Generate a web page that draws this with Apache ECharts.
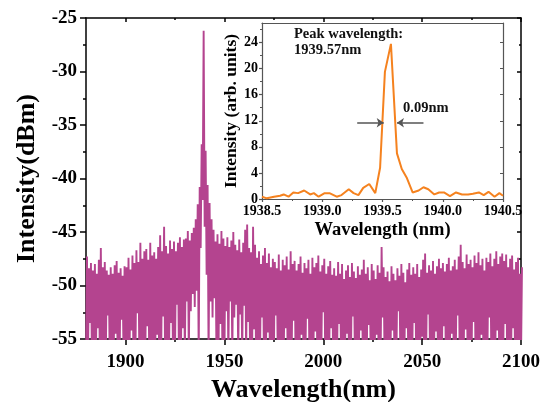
<!DOCTYPE html>
<html>
<head>
<meta charset="utf-8">
<script src="https://cdn.jsdelivr.net/npm/echarts@6/dist/echarts.min.js"></script>
<style>
  html, body { margin: 0; padding: 0; background: #fff; }
  #chart { width: 546px; height: 402px; }
</style>
</head>
<body>
<div id="chart"></div>
<script>
// ---------- Main spectrum (dBm) ----------
// lo values sit at whole nanometres (1880 + i), hi values at half nanometres (1880.5 + i)
const mainStart = 1880;
const mainLo = [
  -57, -57, -53.5, -57, -57, -57, -54.0, -57, -57, -57,
  -57, -52.8, -57, -57, -57, -54.5, -57, -57, -53.2, -57,
  -57, -57, -57, -54.2, -57, -57, -52.6, -57, -57, -57,
  -57, -53.8, -57, -57, -57, -57, -54.6, -57, -57, -52.9,
  -57, -57, -57, -53.5, -57, -57, -51.8, -57, -57, -54.0,
  -57, -51.5, -57, -52.4, -50.8, -52.0, -50.5, -57, -46.5, -42.0,
  -44.5, -49.0, -57, -51.5, -53.0, -51.2, -57, -57, -53.6, -57,
  -57, -52.4, -57, -51.5, -57, -53.0, -51.8, -57, -52.7, -57,
  -51.9, -57, -53.4, -57, -57, -54.1, -57, -57, -57, -53.0,
  -57, -57, -54.4, -57, -57, -57, -52.8, -57, -57, -57,
  -57, -54.0, -57, -57, -57, -53.3, -57, -57, -57, -54.6,
  -57, -57, -53.1, -57, -57, -57, -54.3, -57, -57, -57,
  -52.5, -57, -57, -57, -54.0, -57, -57, -57, -53.6, -57,
  -57, -57, -54.5, -57, -57, -52.9, -57, -57, -57, -54.2,
  -57, -57, -57, -53.7, -57, -57, -57, -54.6, -57, -57,
  -53.0, -57, -57, -57, -57, -54.2, -57, -57, -52.4, -57,
  -57, -57, -54.0, -57, -57, -57, -53.5, -57, -57, -57,
  -54.8, -57, -57, -52.7, -57, -57, -57, -54.3, -57, -57,
  -57, -53.8, -57, -57, -57, -54.5, -57, -57, -52.8, -57,
  -57, -57, -54.1, -57, -57, -57, -53.4, -57, -57, -57,
  -54.6, -57, -57, -57, -53.0, -57, -57, -57, -54.2, -57,
  -57, -57, -53.6, -57, -57, -57, -54.0, -57, -57, -57,
  -57
];
const mainHi = [
  -47.3, -48.4, -47.9, -48.6, -48.0, -48.9, -47.6, -46.5, -48.3, -47.8,
  -48.6, -49.0, -48.3, -48.9, -48.1, -47.7, -48.8, -48.4, -49.1, -48.2,
  -48.3, -47.4, -48.5, -47.2, -47.9, -46.7, -47.8, -46.0, -47.5, -46.8,
  -46.6, -47.6, -46.0, -47.2, -46.9, -47.5, -46.4, -45.3, -46.8, -44.5,
  -46.3, -47.0, -45.8, -46.6, -45.9, -46.8, -46.0, -45.5, -46.4, -45.7,
  -45.6, -44.9, -45.8, -45.1, -44.6, -43.8, -42.4, -40.8, -36.8, -26.2,
  -37.4, -40.6, -42.3, -43.8, -44.8, -45.9, -45.2, -46.1, -44.9, -45.6,
  -46.3, -45.5, -46.4, -45.8, -45.0, -46.2, -46.7, -45.7, -46.9, -46.0,
  -44.8, -44.3, -46.5, -46.9, -44.5, -46.2, -47.4, -46.8, -48.0, -47.2,
  -46.5, -47.9, -47.0, -48.3, -47.5, -47.8, -48.4, -47.1, -48.6, -47.6,
  -48.1, -47.3, -48.5, -46.8, -48.0, -47.7, -48.6, -48.0, -47.3, -48.8,
  -47.9, -48.4, -47.6, -48.9, -47.4, -48.3, -47.9, -47.2, -48.7, -48.1,
  -47.5, -48.9, -48.2, -47.7, -49.0, -48.4, -49.1, -47.8, -48.9, -48.0,
  -49.4, -48.6, -48.1, -49.2, -47.9, -48.7, -49.3, -48.2, -49.0, -48.5,
  -47.6, -48.9, -48.3, -49.5, -48.0, -48.6, -49.4, -48.1, -48.8, -46.4,
  -48.3, -49.2, -48.7, -49.6, -48.2, -48.9, -49.5, -48.4, -49.1, -48.0,
  -48.8, -49.7, -48.5, -47.9, -49.0, -48.3, -48.9, -48.0, -49.2, -48.5,
  -47.6, -47.0, -48.8, -48.1, -48.6, -47.7, -48.9, -48.2, -47.5, -48.4,
  -47.9, -48.7, -48.0, -47.4, -48.6, -48.2, -47.6, -48.5, -47.3, -46.2,
  -47.8, -48.4, -47.1, -48.0, -47.6, -48.3, -47.2, -47.9, -46.9, -48.1,
  -47.5, -48.6, -47.4, -47.8, -47.0, -48.2, -47.5, -46.8, -48.0, -47.3,
  -47.0, -47.7, -47.1, -48.3, -47.5, -47.2, -48.5, -47.8, -47.4, -48.9,
  -48.3
];
const mainXTicks = [1900, 1950, 2000, 2050, 2100];
const mainXMinor = [1925, 1975, 2025, 2075];

// ---------- Inset (arb. units) ----------
const insetX = [
  1938.50, 1938.54, 1938.60, 1938.65, 1938.68, 1938.72, 1938.76, 1938.80, 1938.85, 1938.90,
  1938.93, 1938.97, 1939.02, 1939.06, 1939.12, 1939.16, 1939.22, 1939.26, 1939.30, 1939.34,
  1939.39, 1939.44, 1939.48, 1939.52, 1939.57, 1939.62, 1939.66, 1939.70, 1939.75, 1939.80,
  1939.84, 1939.88, 1939.93, 1939.97, 1940.01, 1940.06, 1940.11, 1940.16, 1940.21, 1940.25,
  1940.30, 1940.34, 1940.38, 1940.43, 1940.47, 1940.50
];
const insetY = [
  0.35, 0.1, 0.35, 0.5, 0.7, 0.35, 1.0, 0.9, 1.3, 0.7,
  0.9, 0.35, 0.9, 0.9, 0.35, 0.6, 1.5, 0.9, 0.6, 1.7,
  2.3, 0.9, 4.8, 19.5, 23.8, 7.0, 4.6, 3.3, 1.0, 1.3,
  1.8, 1.5, 0.7, 1.0, 1.0, 0.45, 1.0, 0.7, 0.7, 0.8,
  1.0, 0.6, 1.1, 0.35, 0.9, 0.5
];
const insetYTicks = [0, 4, 8, 12, 16, 20, 24];
const insetYMinor = [2, 6, 10, 14, 18, 22, 26];
const fwhmY = 11.7;
const fwhmLeftArrow = [1939.29, 1939.51];
const fwhmRightArrow = [1939.84, 1939.62];

const mainData = [];
for (let i = 0; i < mainLo.length; i++) {
  mainData.push([mainStart + i, mainLo[i]]);
  if (i < mainHi.length) mainData.push([mainStart + i + 0.5, mainHi[i]]);
}
const insetData = insetX.map((x, i) => [x, insetY[i]]);

const FONT = '"Liberation Serif", "Times New Roman", serif';
const black = '#000';
const grey = '#555';

function hiddenAxis(extra) {
  return Object.assign({
    type: 'value', splitLine: { show: false },
    axisLabel: { show: false }, axisLine: { show: false }
  }, extra);
}

const chart = echarts.init(document.getElementById('chart'), null, { renderer: 'canvas' });
chart.setOption({
  animation: false,
  backgroundColor: '#fff',
  grid: [
    { left: 86, right: 25, top: 18, bottom: 63, containLabel: false, outerBoundsMode: 'none' },
    { left: 262, right: 43, top: 23, bottom: 203, containLabel: false, outerBoundsMode: 'none' }
  ],
  xAxis: [
    { // 0 main bottom
      type: 'value', gridIndex: 0, min: 1880, max: 2100, position: 'bottom',
      splitLine: { show: false },
      axisLine: { onZero: false, lineStyle: { color: black, width: 1.5 } },
      axisTick: { customValues: mainXTicks, length: 6, lineStyle: { color: black, width: 1.5 } },
      axisLabel: { customValues: mainXTicks, color: black, fontSize: 19, fontWeight: 'bold', fontFamily: FONT, margin: 14,
        formatter: v => String(v) },
      name: 'Wavelength(nm)', nameLocation: 'middle', nameGap: 36,
      nameTextStyle: { color: black, fontSize: 26, fontWeight: 'bold', fontFamily: FONT }
    },
    hiddenAxis({ // 1 main bottom minor
      gridIndex: 0, min: 1880, max: 2100, position: 'bottom',
      axisTick: { show: true, customValues: mainXMinor, length: 3, lineStyle: { color: black, width: 1.5 } }
    }),
    hiddenAxis({ // 2 main top
      gridIndex: 0, min: 1880, max: 2100, position: 'top',
      axisLine: { show: true, onZero: false, lineStyle: { color: black, width: 1.5 } },
      axisTick: { show: true, inside: true, customValues: mainXTicks, length: 4, lineStyle: { color: black, width: 1.5 } }
    }),
    hiddenAxis({ // 3 main top minor
      gridIndex: 0, min: 1880, max: 2100, position: 'top',
      axisTick: { show: true, inside: true, customValues: mainXMinor, length: 2, lineStyle: { color: black, width: 1.5 } }
    }),
    { // 4 inset bottom
      type: 'value', gridIndex: 1, min: 1938.5, max: 1940.5, interval: 0.5, position: 'bottom',
      splitLine: { show: false },
      axisLine: { onZero: false, lineStyle: { color: grey, width: 1.2 } },
      axisTick: { length: 3, lineStyle: { color: grey, width: 1.2 } },
      minorTick: { show: true, splitNumber: 2, length: 2, lineStyle: { color: grey, width: 1 } },
      axisLabel: { color: black, fontSize: 14, fontWeight: 'bold', fontFamily: FONT, margin: 5,
        formatter: v => v.toFixed(1) },
      name: 'Wavelength (nm)', nameLocation: 'middle', nameGap: 22,
      nameTextStyle: { color: black, fontSize: 18.5, fontWeight: 'bold', fontFamily: FONT }
    },
    hiddenAxis({ // 5 inset top
      gridIndex: 1, min: 1938.5, max: 1940.5, position: 'top',
      axisLine: { show: true, onZero: false, lineStyle: { color: grey, width: 1.2 } },
      axisTick: { show: false }
    })
  ],
  yAxis: [
    { // 0 main left
      type: 'value', gridIndex: 0, min: -55, max: -25, interval: 5, position: 'left',
      splitLine: { show: false },
      axisLine: { show: true, onZero: false, lineStyle: { color: black, width: 1.5 } },
      axisTick: { show: true, length: 6, lineStyle: { color: black, width: 1.5 } },
      minorTick: { show: true, splitNumber: 2, length: 3, lineStyle: { color: black, width: 1.5 } },
      axisLabel: { color: black, fontSize: 19, fontWeight: 'bold', fontFamily: FONT, margin: 9 },
      name: 'Intensity(dBm)', nameLocation: 'middle', nameGap: 42,
      nameTextStyle: { color: black, fontSize: 26, fontWeight: 'bold', fontFamily: FONT }
    },
    { // 1 main right
      type: 'value', gridIndex: 0, min: -55, max: -25, interval: 5, position: 'right',
      splitLine: { show: false },
      axisLine: { show: true, onZero: false, lineStyle: { color: black, width: 1.5 } },
      axisTick: { show: true, inside: true, length: 4, lineStyle: { color: black, width: 1.5 } },
      minorTick: { show: true, splitNumber: 2, length: 2, lineStyle: { color: black, width: 1.5 } },
      axisLabel: { show: false }
    },
    { // 2 inset left
      type: 'value', gridIndex: 1, min: 0, max: 27, position: 'left',
      splitLine: { show: false },
      axisLine: { show: true, onZero: false, lineStyle: { color: grey, width: 1.2 } },
      axisTick: { show: true, customValues: insetYTicks, length: 3, lineStyle: { color: grey, width: 1.2 } },
      axisLabel: { customValues: insetYTicks, color: black, fontSize: 14, fontWeight: 'bold', fontFamily: FONT, margin: 4 },
      name: 'Intensity (arb. units)', nameLocation: 'middle', nameGap: 21,
      nameTextStyle: { color: black, fontSize: 17.5, fontWeight: 'bold', fontFamily: FONT }
    },
    hiddenAxis({ // 3 inset left minor
      gridIndex: 1, min: 0, max: 27, position: 'left',
      axisTick: { show: true, customValues: insetYMinor, length: 2, lineStyle: { color: grey, width: 1 } }
    }),
    hiddenAxis({ // 4 inset right
      gridIndex: 1, min: 0, max: 27, position: 'right',
      axisLine: { show: true, onZero: false, lineStyle: { color: grey, width: 1.2 } },
      axisTick: { show: true, inside: true, customValues: insetYTicks, length: 3, lineStyle: { color: grey, width: 1 } }
    })
  ],
  series: [
    {
      type: 'line', xAxisIndex: 0, yAxisIndex: 0, data: mainData,
      showSymbol: false, symbol: 'none', sampling: null, clip: true,
      lineStyle: { color: '#B4448F', width: 1.9, join: 'miter', miterLimit: 2 }, z: 2
    },
    {
      type: 'line', xAxisIndex: 4, yAxisIndex: 2, data: insetData,
      showSymbol: false, symbol: 'none', clip: true,
      lineStyle: { color: '#F5821F', width: 2 }, z: 3,
      markLine: {
        silent: true, symbol: ['none', 'arrow'], symbolSize: 7, animation: false,
        label: { show: false },
        lineStyle: { color: grey, width: 1.5, type: 'solid' },
        emphasis: { disabled: true },
        data: [
          [{ coord: [fwhmLeftArrow[0], fwhmY] }, { coord: [fwhmLeftArrow[1], fwhmY] }],
          [{ coord: [fwhmRightArrow[0], fwhmY] }, { coord: [fwhmRightArrow[1], fwhmY] }]
        ]
      }
    }
  ],
  graphic: [
    { type: 'text', left: 294, top: 27, style: { text: 'Peak wavelength:', fill: '#111', fontSize: 14.5, fontWeight: 'bold', fontFamily: FONT } },
    { type: 'text', left: 294, top: 43, style: { text: '1939.57nm', fill: '#111', fontSize: 14.5, fontWeight: 'bold', fontFamily: FONT } },
    { type: 'text', left: 403, top: 101, style: { text: '0.09nm', fill: '#111', fontSize: 14.5, fontWeight: 'bold', fontFamily: FONT } }
  ]
});
</script>
</body>
</html>
